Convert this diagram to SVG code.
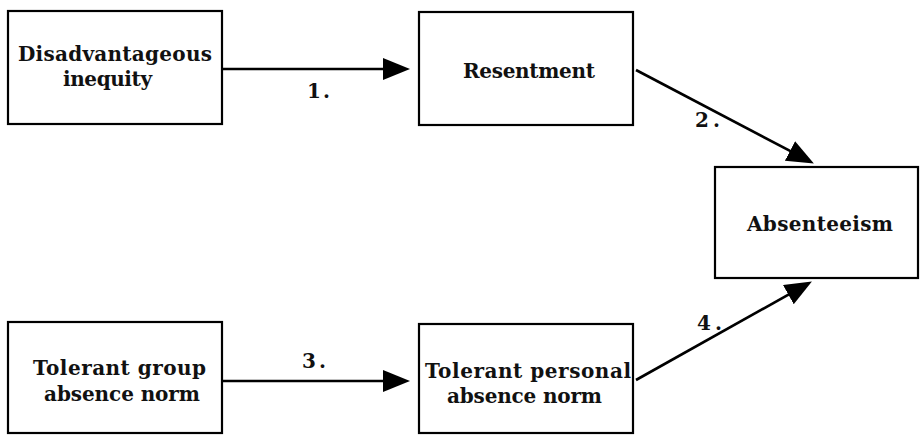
<svg xmlns="http://www.w3.org/2000/svg" width="920" height="437" viewBox="0 0 920 437">
<style>
.box{fill:#fff;stroke:#000;stroke-width:2.2}
.t{font-family:"DejaVu Serif","Liberation Serif",serif;font-weight:bold;font-size:20px;fill:#111}
.lbl{font-family:"DejaVu Serif","Liberation Serif",serif;font-weight:bold;font-size:20px;fill:#111}
.conn{stroke:#000;stroke-width:2.6;fill:none}
</style>
<defs>
<marker id="ah" markerUnits="userSpaceOnUse" markerWidth="30" markerHeight="24" refX="20" refY="11" orient="auto">
<path d="M0,0 L27,11 L0,22 Z" fill="#000"/>
</marker>
</defs>
<rect width="920" height="437" fill="#fff"/>
<g id="connectors">
<line class="conn" x1="223" y1="69" x2="403" y2="69" marker-end="url(#ah)"/>
<line class="conn" x1="636" y1="70" x2="807.7" y2="160.2" marker-end="url(#ah)"/>
<line class="conn" x1="223" y1="381" x2="403" y2="381" marker-end="url(#ah)"/>
<line class="conn" x1="636" y1="380" x2="805.8" y2="284.9" marker-end="url(#ah)"/>
<text class="lbl" x="307" y="98" textLength="23">1.</text>
<text class="lbl" x="695" y="127" textLength="25">2.</text>
<text class="lbl" x="302" y="368" textLength="24">3.</text>
<text class="lbl" x="697" y="330" textLength="25">4.</text>
</g>
<g id="disadvantageous-inequity">
<rect class="box" x="8" y="11" width="214" height="113"/>
<text class="t" x="18" y="61" textLength="194">Disadvantageous</text>
<text class="t" x="63" y="86" textLength="89">inequity</text>
</g>
<g id="resentment">
<rect class="box" x="419" y="12" width="214" height="113"/>
<text class="t" x="463" y="78" textLength="132">Resentment</text>
</g>
<g id="absenteeism">
<rect class="box" x="715" y="167" width="203" height="111"/>
<text class="t" x="747" y="231" textLength="146">Absenteeism</text>
</g>
<g id="tolerant-group-absence-norm">
<rect class="box" x="8" y="322" width="214" height="111"/>
<text class="t" x="33" y="375" textLength="173">Tolerant  group</text>
<text class="t" x="44" y="401" textLength="156">absence  norm</text>
</g>
<g id="tolerant-personal-absence-norm">
<rect class="box" x="419" y="324" width="214" height="109"/>
<text class="t" x="425" y="378" textLength="206">Tolerant  personal</text>
<text class="t" x="447" y="403" textLength="155">absence  norm</text>
</g>
</svg>
